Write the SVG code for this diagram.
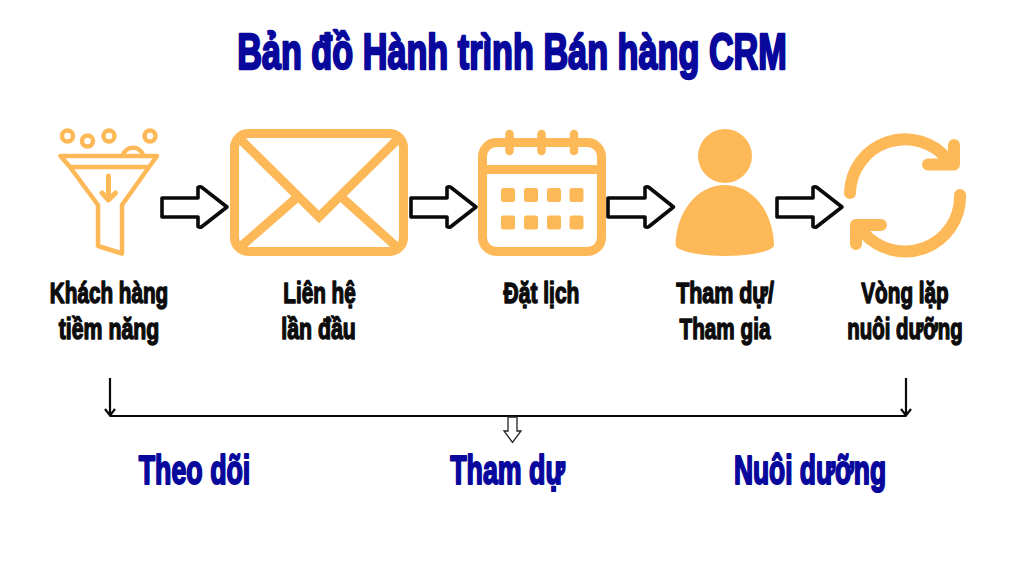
<svg xmlns="http://www.w3.org/2000/svg" width="1024" height="576" viewBox="0 0 1024 576">
<style>
.t{font-family:"Liberation Sans",Arial,sans-serif;font-weight:700;text-anchor:middle;stroke-linejoin:round}
.title{font-size:50px;fill:#08089c;stroke:#08089c;stroke-width:2.400px}
.sub{font-size:40px;fill:#08089c;stroke:#08089c;stroke-width:2px}
.lab{font-size:30px;fill:#0c0c0c;stroke:#0c0c0c;stroke-width:1.500px}
.o{fill:none;stroke:#fdb858;stroke-linecap:round;stroke-linejoin:round}
.f{fill:#fdb858}
.ba{fill:#fff;stroke:#0a0a0a;stroke-width:3.6;stroke-linejoin:round}
.ln{fill:none;stroke:#0a0a0a;stroke-width:2.2}
</style>
<rect width="1024" height="576" fill="#fff"/>
<text class="t title" transform="translate(512 69) scale(.685 1)">Bản đồ Hành trình Bán hàng CRM</text>
<g id="node-funnel">
<g class="o" stroke-width="4.500"><circle cx="67.500" cy="136" r="5.500"/><circle cx="87.500" cy="141" r="5.500"/><circle cx="109" cy="136" r="5.500"/><circle cx="150" cy="136" r="5.500"/><path d="M123 155a10.500 10.500 0 0 1 20 0"/></g>
<path class="o" stroke-width="4.500" d="M60.500 156H157L149 167H70ZM70 167L98 205V246L122 253.500V205L149 167"/>
<path class="o" stroke-width="5" d="M108.500 176V198M102 193L108.500 200L115.500 193"/>
<text class="t lab" transform="translate(109 303) scale(.69 1)">Khách hàng</text>
<text class="t lab" transform="translate(109 339) scale(.71 1)">tiềm năng</text>
</g>
<g id="node-email">
<rect x="234.500" y="133.500" width="169" height="118" rx="14" fill="none" stroke="#fdb858" stroke-width="9"/>
<path d="M238 137L319 217L400 137M238 249L301 194M399 249L338 194" fill="none" stroke="#fdb858" stroke-width="9"/>
<text class="t lab" transform="translate(319.500 303) scale(.69 1)">Liên hệ</text>
<text class="t lab" transform="translate(318.500 339) scale(.71 1)">lần đầu</text>
</g>
<g id="node-calendar">
<rect x="482.500" y="142.500" width="119" height="109" rx="14" fill="none" stroke="#fdb858" stroke-width="9"/>
<path d="M482 169.500H602" stroke="#fdb858" stroke-width="9"/>
<path class="o" stroke-width="8.500" d="M509.500 134V151M541.500 134V151M574 134V151"/>
<g class="f"><rect x="501" y="188" width="14" height="14" rx="2.500"/><rect x="524" y="188" width="14" height="14" rx="2.500"/><rect x="547" y="188" width="14" height="14" rx="2.500"/><rect x="569.500" y="188" width="14" height="14" rx="2.500"/><rect x="501" y="215.500" width="14" height="14" rx="2.500"/><rect x="524" y="215.500" width="14" height="14" rx="2.500"/><rect x="547" y="215.500" width="14" height="14" rx="2.500"/><rect x="569.500" y="215.500" width="14" height="14" rx="2.500"/></g>
<text class="t lab" transform="translate(541.500 303) scale(.7 1)">Đặt lịch</text>
</g>
<g id="node-person">
<circle class="f" cx="725" cy="156" r="27"/>
<path class="f" d="M675.500 245C676 212 697 185 725 185C753 185 773 212 774 245C774 251 750 256 725 256C700 256 676 251 675.500 245Z"/>
<text class="t lab" transform="translate(725 303) scale(.715 1)">Tham dự/</text>
<text class="t lab" transform="translate(725 339) scale(.69 1)">Tham gia</text>
</g>
<g id="node-cycle">
<path class="o" stroke-width="12" d="M850 193A55 55 0 0 1 948 160M954 145V164.500H928M960 195A55 55 0 0 1 863 232M856 244V225H881"/>
<text class="t lab" transform="translate(905 303) scale(.69 1)">Vòng lặp</text>
<text class="t lab" transform="translate(905 339) scale(.68 1)">nuôi dưỡng</text>
</g>
<g id="connectors">
<path class="ba" d="M162 198H198V187.500Q200 186 202 187.500L227 207L202 226.500Q200 228 198 226.500V217H162Z"/>
<path class="ba" d="M411 198H447V187.500Q449 186 451 187.500L476 207L451 226.500Q449 228 447 226.500V217H411Z"/>
<path class="ba" d="M608 198H645V187.500Q647 186 649 187.500L673.500 207L649 226.500Q647 228 645 226.500V217H608Z"/>
<path class="ba" d="M777 198H813V187.500Q815 186 817 187.500L842 207L817 226.500Q815 228 813 226.500V217H777Z"/>
<path class="ln" d="M110 416H906M110 378V415M105 409L110 415.500L115 409M906 378V415M901 409L906 415.500L911 409"/>
<path d="M508 417H517V431H521L512.500 442.500L504 431H508Z" fill="#fff" stroke="#222" stroke-width="1.300"/>
</g>
<g id="group-labels">
<text class="t sub" transform="translate(194.500 484) scale(.67 1)">Theo dõi</text>
<text class="t sub" transform="translate(507.500 484) scale(.67 1)">Tham dự</text>
<text class="t sub" transform="translate(810 484) scale(.66 1)">Nuôi dưỡng</text>
</g>
</svg>
